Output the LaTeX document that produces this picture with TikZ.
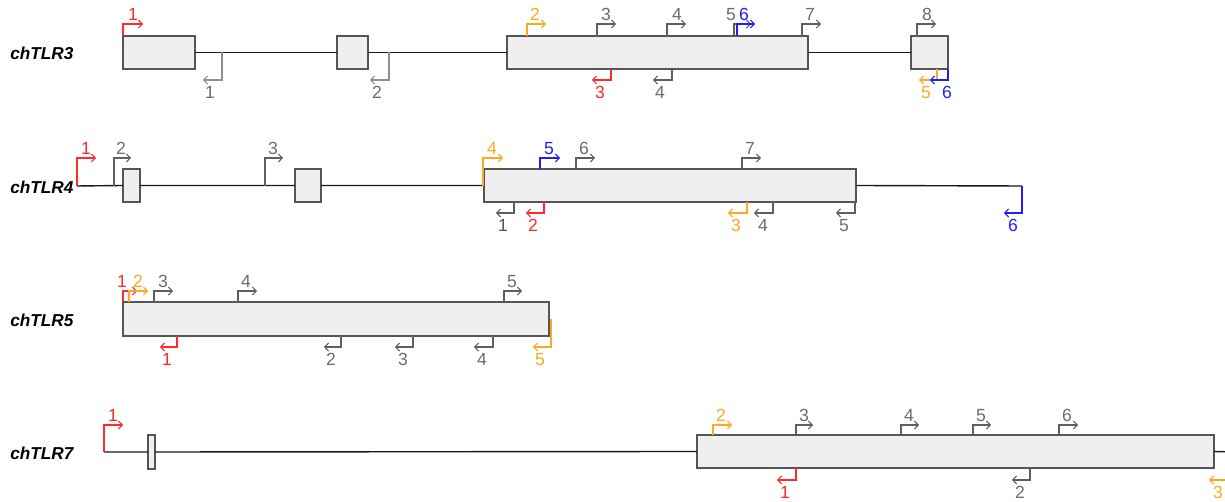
\documentclass[tikz,border=0pt]{standalone}
\usepackage{fontspec}
\setmainfont{Liberation Sans}
\usetikzlibrary{arrows.meta}

\definecolor{tssred}{HTML}{FF2A2A}
\definecolor{tssorange}{HTML}{FFA820}
\definecolor{tssblue}{HTML}{1E1EFF}
\definecolor{tssgray}{HTML}{5F5F5F}
\definecolor{numgray}{HTML}{6C6C78}
\definecolor{numnavy}{HTML}{4A5378}
\definecolor{exonfill}{HTML}{EFEFEF}
\definecolor{exonedge}{HTML}{555555}

\tikzset{
  exon/.style={draw=exonedge, fill=exonfill, line width=0.9pt, inner sep=0pt, outer sep=0pt, anchor=north west},
  intron/.style={draw=black!90, line width=0.8pt},
  tss/.style={line width=0.6pt, -{Straight Barb[length=2.2pt,width=4.6pt]}},
  tsslabel/.style={font=\fontsize{10}{11}\selectfont, inner sep=0pt, anchor=base},
  genename/.style={font=\fontsize{9.8}{11}\selectfont\bfseries\itshape, inner sep=0pt, anchor=base west},
}

% exon box: name, left x, right x, top y, bottom y
\newcommand\exonbox[5]{%
  \node[exon, minimum width={(#3-#2)*0.02cm}, minimum height={(#5-#4)*0.02cm}] (#1) at (#2,#4) {};}
% forward start site: name, x, base y, tip y, arrow colour, label colour, label, label x, length
\newcommand\fwdtss[9]{%
  \coordinate (#1) at (#2,#3);
  \draw[tss,draw=#5] (#1) -- (#2,#4) -- ++(#9,0);
  \node[tsslabel,text=#6] (#1-lab) at (#8,#4-3) {#7};}
% reverse start site: name, x, base y, tip y, arrow colour, label colour, label, label x, length
\newcommand\revtss[9]{%
  \coordinate (#1) at (#2,#3);
  \draw[tss,draw=#5] (#1) -- (#2,#4) -- ++(-#9,0);
  \node[tsslabel,text=#6] (#1-lab) at (#8,#4+19) {#7};}

\begin{document}
\begin{tikzpicture}[x=0.02cm, y=-0.02cm]
\useasboundingbox (0,0) rectangle (1225,502);
\clip (0,0) rectangle (1225,502);
\fill[white] (0,0) rectangle (1225,502);

% ---------------- chTLR3 ----------------
\node[genename] (g3) at (10,60) {chTLR3};
\exonbox{t3e1}{123}{195}{36}{69}
\exonbox{t3e2}{337}{368}{36}{69}
\exonbox{t3e3}{507}{808}{36}{69}
\exonbox{t3e4}{911}{948}{36}{69}
\draw[intron] (t3e1.east) -- (t3e2.west) (t3e2.east) -- (t3e3.west) (t3e3.east) -- (t3e4.west);
\fwdtss{t3f1}{123}{36}{24}{tssred}{tssred}{1}{133}{20}
\fwdtss{t3f2}{527}{36}{24}{tssorange}{tssorange}{2}{535}{19}
\fwdtss{t3f3}{597}{36}{24}{tssgray}{numgray}{3}{606}{19}
\fwdtss{t3f4}{667}{36}{24}{tssgray}{numgray}{4}{677}{19}
\fwdtss{t3f5}{734}{36}{24}{tssgray}{numgray}{5}{731}{17}
\fwdtss{t3f6}{737}{36}{24}{tssblue}{tssblue}{6}{744}{18}
\fwdtss{t3f7}{802}{36}{24}{tssgray}{numgray}{7}{810}{19}
\fwdtss{t3f8}{917}{36}{24}{tssgray}{numgray}{8}{927}{19}
\revtss{t3r1}{222}{52.5}{80}{tssgray!70}{numgray}{1}{210}{19}
\revtss{t3r2}{389}{52.5}{80}{tssgray!70}{numgray}{2}{377}{19}
\revtss{t3r3}{611}{69}{80}{tssred}{tssred}{3}{600}{19}
\revtss{t3r4}{672}{69}{80}{tssgray}{numgray}{4}{660}{19}
\revtss{t3r5}{937}{69}{80}{tssorange}{tssorange}{5}{926}{18}
\revtss{t3r6}{948}{69}{80}{tssblue}{tssblue}{6}{947}{18}

% ---------------- chTLR4 ----------------
\node[genename] (g4) at (10,193.5) {chTLR4};
\coordinate (t4start) at (77,186);
\coordinate (t4end) at (1022,186);
\exonbox{t4e1}{123}{140}{169}{202}
\exonbox{t4e2}{295}{321}{169}{202}
\exonbox{t4e3}{484}{856}{169}{202}
\draw[intron] (t4start) -- (t4e1.west) (t4e1.east) -- (t4e2.west) (t4e2.east) -- (t4e3.west) (t4e3.east) -- (t4end);
\fwdtss{t4f1}{77}{186}{158}{tssred}{tssred}{1}{86}{19}
\fwdtss{t4f2}{114}{186}{158}{tssgray}{numgray}{2}{121}{17}
\fwdtss{t4f3}{265}{186}{158}{tssgray}{numgray}{3}{273}{18}
\fwdtss{t4f4}{483}{186}{158}{tssorange}{tssorange}{4}{492}{20}
\fwdtss{t4f5}{540}{169}{158}{tssblue}{tssblue}{5}{549}{20}
\fwdtss{t4f6}{576}{169}{158}{tssgray}{numgray}{6}{584}{19}
\fwdtss{t4f7}{742}{169}{158}{tssgray}{numgray}{7}{750}{19}
\revtss{t4r1}{514}{202}{213}{tssgray}{numnavy}{1}{503}{18}
\revtss{t4r2}{544}{202}{213}{tssred}{tssred}{2}{533}{18}
\revtss{t4r3}{747}{202}{213}{tssorange}{tssorange}{3}{736}{19}
\revtss{t4r4}{773}{202}{213}{tssgray}{numgray}{4}{763}{19}
\revtss{t4r5}{855}{202}{213}{tssgray}{numgray}{5}{844}{19}
\revtss{t4r6}{1022}{186}{213}{tssblue}{tssblue}{6}{1013}{18}

% ---------------- chTLR5 ----------------
\node[genename] (g5) at (10,326.5) {chTLR5};
\exonbox{t5e1}{123}{549}{302}{336}
\fwdtss{t5f1}{123}{302}{291}{tssred}{tssred}{1}{122}{14}
\fwdtss{t5f2}{129}{302}{291}{tssorange}{tssorange}{2}{138}{19}
\fwdtss{t5f3}{154}{302}{291}{tssgray}{numgray}{3}{163}{19}
\fwdtss{t5f4}{238}{302}{291}{tssgray}{numgray}{4}{246}{19}
\fwdtss{t5f5}{504}{302}{291}{tssgray}{numgray}{5}{512}{18}
\revtss{t5r1}{177}{336}{347}{tssred}{tssred}{1}{167}{17}
\revtss{t5r2}{341}{336}{347}{tssgray}{numgray}{2}{331}{17}
\revtss{t5r3}{413}{336}{347}{tssgray}{numgray}{3}{403}{18}
\revtss{t5r4}{493}{336}{347}{tssgray}{numgray}{4}{482}{19}
\revtss{t5r5}{551}{319}{347}{tssorange}{tssorange}{5}{540}{18}

% ---------------- chTLR7 ----------------
\node[genename] (g7) at (10,459.5) {chTLR7};
\coordinate (t7start) at (104,452);
\coordinate (t7end) at (1235,452);
\exonbox{t7e1}{148}{155}{435}{469}
\exonbox{t7e2}{697}{1214}{435}{468}
\draw[intron] (t7start) -- (t7e1.west) (t7e1.east) -- (t7e2.west) (t7e2.east) -- (t7end);
\fwdtss{t7f1}{104}{452}{425}{tssred}{tssred}{1}{113}{19}
\fwdtss{t7f2}{713}{435}{425}{tssorange}{tssorange}{2}{721}{19}
\fwdtss{t7f3}{796}{435}{425}{tssgray}{numgray}{3}{804}{17}
\fwdtss{t7f4}{901}{435}{425}{tssgray}{numgray}{4}{909}{18}
\fwdtss{t7f5}{973}{435}{425}{tssgray}{numgray}{5}{981}{18}
\fwdtss{t7f6}{1059}{435}{425}{tssgray}{numgray}{6}{1067}{19}
\revtss{t7r1}{796}{468}{480}{tssred}{tssred}{1}{785}{19}
\revtss{t7r2}{1030}{468}{480}{tssgray}{numgray}{2}{1020}{18}
\revtss{t7r3}{1228}{452}{480}{tssorange}{tssorange}{3}{1218}{19}
\end{tikzpicture}
\end{document}
